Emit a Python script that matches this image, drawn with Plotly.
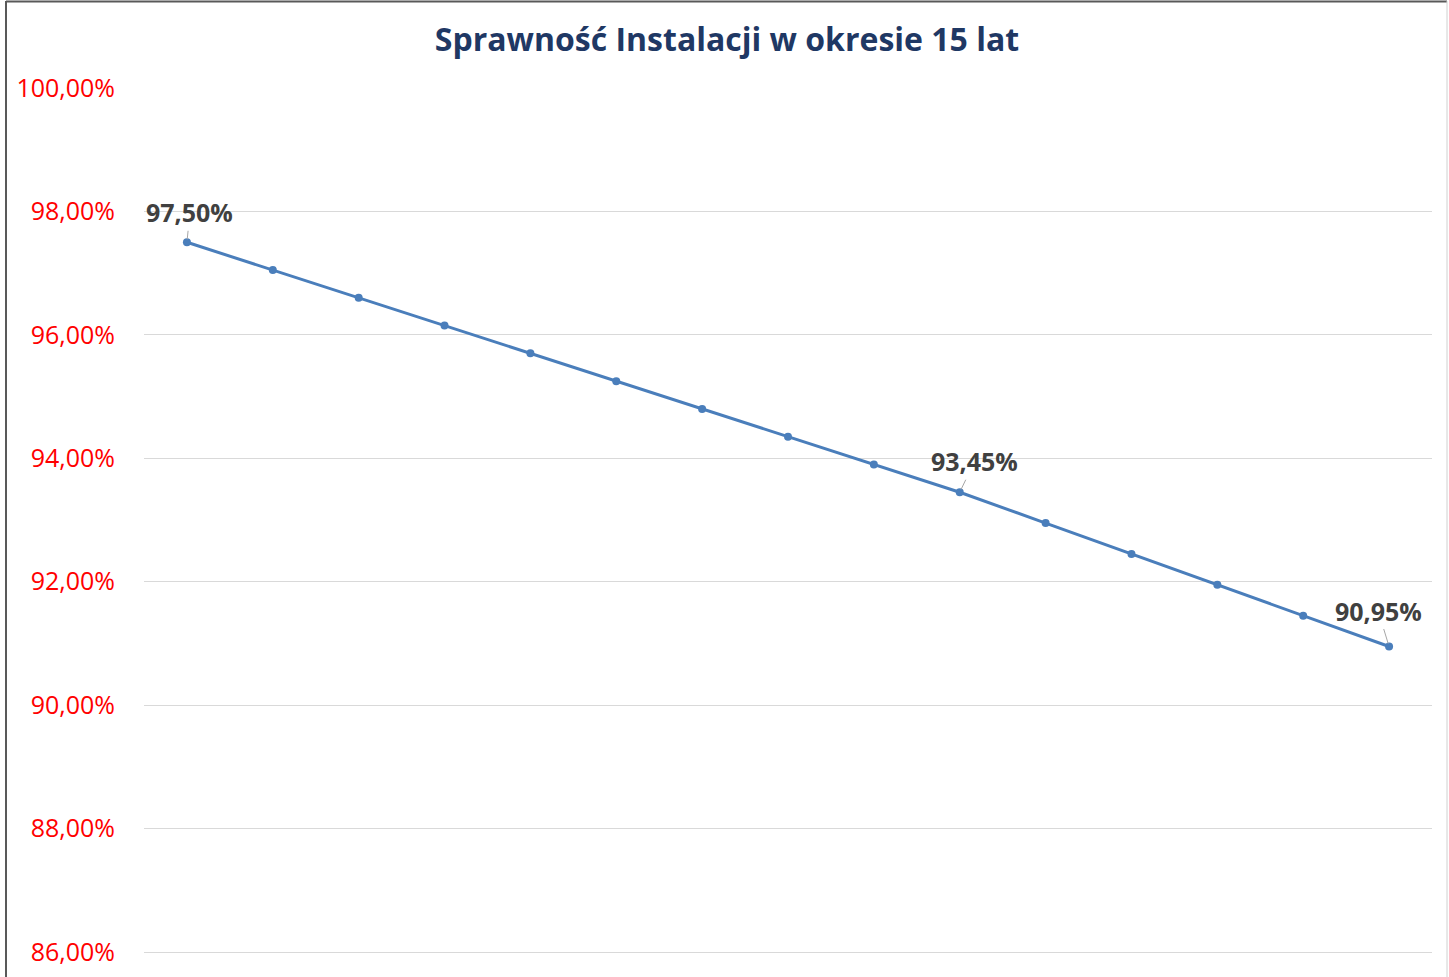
import plotly.graph_objects as go

years = list(range(1, 16))
efficiency = [97.50, 97.05, 96.60, 96.15, 95.70, 95.25, 94.80, 94.35, 93.90,
              93.45, 92.95, 92.45, 91.95, 91.45, 90.95]
tick_vals = [86, 88, 90, 92, 94, 96, 98, 100]
tick_text = ["86,00%", "88,00%", "90,00%", "92,00%", "94,00%", "96,00%", "98,00%", "100,00%"]
labeled_idx = [0, 9, 14]
label_offsets = [(3, -30), (15, -31), (-11, -36)]

FONT = "Open Sans"
line_color = "#4A7EBB"

fig = go.Figure()
fig.add_trace(go.Scatter(
    x=years, y=efficiency, mode="lines+markers",
    line=dict(color=line_color, width=3),
    marker=dict(color=line_color, size=8),
    hoverinfo="skip", showlegend=False,
))

for i, (ax, ay) in zip(labeled_idx, label_offsets):
    fig.add_annotation(
        x=years[i], y=efficiency[i], xref="x", yref="y",
        text=f"{efficiency[i]:.2f}%".replace(".", ","),
        showarrow=True, arrowhead=0, arrowwidth=1, arrowcolor="#A6A6A6",
        ax=ax, ay=ay, standoff=3,
        font=dict(family=FONT, size=25, color="#404040", weight="bold"),
    )

fig.update_layout(
    width=1449, height=977,
    margin=dict(l=144, r=17, t=88, b=0),
    paper_bgcolor="white", plot_bgcolor="white",
    title=dict(
        text="<b>Sprawność Instalacji w okresie 15 lat</b>",
        x=727 / 1449, xref="container", xanchor="center",
        y=1 - 40 / 977, yref="container", yanchor="middle",
        font=dict(family=FONT, size=32, color="#1F3864"),
    ),
    xaxis=dict(
        range=[0.5, 15.5], showgrid=False,
        showticklabels=False, showline=False, zeroline=False, fixedrange=True,
    ),
    yaxis=dict(
        range=[85.595, 100], tickvals=tick_vals, ticktext=tick_text,
        showgrid=True, gridcolor="#D9D9D9", gridwidth=1, zeroline=False,
        showline=False, ticks="", ticklabelstandoff=28,
        tickfont=dict(family=FONT, size=25, color="#FF0000"),
    ),
    shapes=[
        dict(type="line", xref="paper", yref="paper",
             x0=(6 - 144) / 1288, x1=(6 - 144) / 1288,
             y0=(977 - 1) / 889, y1=-0.01,
             line=dict(color="#595959", width=2)),
        dict(type="line", xref="paper", yref="paper",
             x0=(6 - 144) / 1288, x1=(1447 - 144) / 1288,
             y0=(977 - 1.5) / 889, y1=(977 - 1.5) / 889,
             line=dict(color="#595959", width=2)),
        dict(type="line", xref="paper", yref="paper",
             x0=(1447 - 144) / 1288, x1=(1447 - 144) / 1288,
             y0=(977 - 1) / 889, y1=-0.01,
             line=dict(color="#D0D0D0", width=1)),
    ],
)

fig.write_html("out.html",
               config={"displayModeBar": False},
               post_script="document.body.style.margin='0';document.body.style.overflow='hidden';")
